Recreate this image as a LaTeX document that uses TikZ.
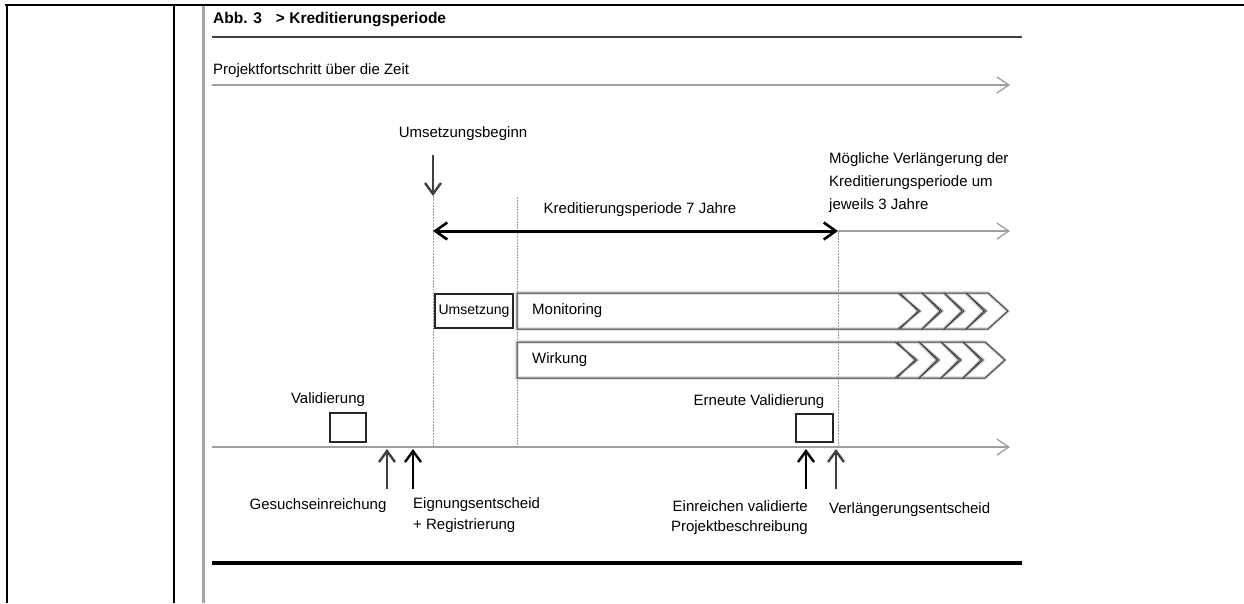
\documentclass[tikz,border=0pt]{standalone}
\usepackage{fontspec}
\setmainfont{Liberation Sans}
\usetikzlibrary{arrows.meta}
\begin{document}
\begin{tikzpicture}[x=1pt,y=-1pt,
  lbl/.style={font=\fontsize{15}{17}\selectfont, inner sep=0pt, text=black},
  barb/.style={-{Straight Barb[length=12pt,width=16pt,line width=1.3pt]}},
  dbarb/.style={{Straight Barb[length=12pt,width=17pt,line width=2.6pt]}-{Straight Barb[length=12pt,width=17pt,line width=2.6pt]}},
  upbarb/.style={-{Straight Barb[length=11pt,width=16pt,line width=2.4pt]}},
  thinline/.style={draw=gray!75, line width=1.4pt},
  guide/.style={draw=gray!80, line width=0.7pt, dash pattern=on 1.5pt off 1.5pt},
  frame/.style={draw=black, line width=2.4pt},
  smallbox/.style={draw=black!85, line width=1.8pt, inner sep=0pt},
  barlight/.style={draw=gray!35, line width=3.2pt, line join=miter},
  bardark/.style={draw=gray!55!black, line width=1pt, line join=miter}
]
\useasboundingbox (0,0) rectangle (1244,603);

% page frame
\coordinate (ft1) at (5,5);
\coordinate (ft2) at (1244,5);
\coordinate (fl1) at (7,5);
\coordinate (fl2) at (7,603);
\coordinate (fm1) at (174,5);
\coordinate (fm2) at (174,603);
\coordinate (fg1) at (203,6);
\coordinate (fg2) at (203,603);
\draw[frame] (ft1) -- (ft2);
\draw[frame] (fl1) -- (fl2);
\draw[draw=black, line width=2pt] (fm1) -- (fm2);
\draw[draw=gray!70, line width=3pt] (fg1) -- (fg2);

% header
\node[lbl, anchor=west, font=\fontsize{15.5}{17}\selectfont\bfseries] (title) at (213,20) {Abb. 3\hspace{14pt}> Kreditierungsperiode};
\coordinate (ul1) at (212,37);
\coordinate (ul2) at (1022,37);
\draw[draw=black!75, line width=2.2pt] (ul1) -- (ul2);

\node[lbl, anchor=west] (proj) at (213,71) {Projektfortschritt über die Zeit};
\coordinate (pa1) at (212,85);
\coordinate (pa2) at (1010,85);
\draw[thinline, barb] (pa1) -- (pa2);

% Umsetzungsbeginn
\node[lbl] (umsb) at (463,134) {Umsetzungsbeginn};
\coordinate (ua1) at (433,155);
\coordinate (ua2) at (433,196);
\draw[draw=black!75, line width=2.4pt, upbarb] (ua1) -- (ua2);

% guide lines
\coordinate (g1a) at (433,196);
\coordinate (g1b) at (433,447);
\coordinate (g2a) at (517,197);
\coordinate (g2b) at (517,447);
\coordinate (g3a) at (838,232);
\coordinate (g3b) at (838,447);
\draw[guide] (g1a) -- (g1b);
\draw[guide] (g2a) -- (g2b);
\draw[guide] (g3a) -- (g3b);

% credit period
\node[lbl] (kred) at (640,210) {Kreditierungsperiode 7 Jahre};
\coordinate (kp1) at (433,231);
\coordinate (kp2) at (838,231);
\coordinate (kp3) at (1010,231);
\draw[draw=black, line width=3pt, dbarb] (kp1) -- (kp2);
\draw[draw=gray!75, line width=1.3pt, barb] (kp2) -- (kp3);
\node[lbl, anchor=north west, align=left, font=\fontsize{15}{23}\selectfont] (moeg) at (829,152)
  {Mögliche Verlängerung der\\Kreditierungsperiode um\\jeweils 3 Jahre};

% Umsetzung box
\node[smallbox, minimum width=78pt, minimum height=34pt, font=\fontsize{14}{16}\selectfont] (ums) at (474,311) {Umsetzung};

% Monitoring and Wirkung bars with chevrons
\foreach \st in {barlight,bardark}{
  \draw[\st] (517,293) -- (898,293) -- (920,311) -- (898,329) -- (517,329) -- cycle;
  \foreach \k in {0,1,2,3}{
    \pgfmathsetmacro{\a}{900+22*\k}
    \draw[\st] (\a,293) -- (\a+22,293) -- (\a+42,311) -- (\a+22,329) -- (\a,329) -- (\a+18,311) -- cycle;
  }
  \draw[\st] (517,342) -- (895,342) -- (917,360) -- (895,378) -- (517,378) -- cycle;
  \foreach \k in {0,1,2,3}{
    \pgfmathsetmacro{\a}{897+22*\k}
    \draw[\st] (\a,342) -- (\a+22,342) -- (\a+42,360) -- (\a+22,378) -- (\a,378) -- (\a+18,360) -- cycle;
  }
}
\node[lbl, anchor=west] (mon) at (532,311) {Monitoring};
\node[lbl, anchor=west] (wirk) at (532,360) {Wirkung};

% validation boxes
\node[lbl] (valt) at (328,400) {Validierung};
\node[smallbox, minimum width=36pt, minimum height=29pt] (valb) at (348,427.5) {};
\node[lbl] (evalt) at (759,402) {Erneute Validierung};
\node[smallbox, minimum width=37pt, minimum height=28pt] (evalb) at (814.5,428) {};

% timeline
\coordinate (tl1) at (212,447);
\coordinate (tl2) at (1010,447);
\draw[thinline, barb] (tl1) -- (tl2);

% up arrows
\coordinate (a1a) at (387,489);
\coordinate (a1b) at (387,449);
\coordinate (a2a) at (413,489);
\coordinate (a2b) at (413,449);
\coordinate (a3a) at (806,489);
\coordinate (a3b) at (806,449);
\coordinate (a4a) at (836,489);
\coordinate (a4b) at (836,449);
\draw[draw=black!75, line width=2.6pt, upbarb] (a1a) -- (a1b);
\draw[draw=black, line width=2.6pt, upbarb] (a2a) -- (a2b);
\draw[draw=black, line width=2.6pt, upbarb] (a3a) -- (a3b);
\draw[draw=black!75, line width=2.6pt, upbarb] (a4a) -- (a4b);

\node[lbl] (ges) at (318,506) {Gesuchseinreichung};
\node[lbl, anchor=north west, align=left, font=\fontsize{15}{21}\selectfont] (eig) at (413,497) {Eignungsentscheid\\+ Registrierung};
\node[lbl, anchor=north east, align=right, font=\fontsize{15}{20}\selectfont] (ein) at (808,500) {Einreichen validierte\\Projektbeschreibung};
\node[lbl, anchor=west] (verl) at (829,510) {Verlängerungsentscheid};

% bottom rule
\coordinate (bl1) at (212,563);
\coordinate (bl2) at (1022,563);
\draw[draw=black, line width=3.5pt] (bl1) -- (bl2);
\end{tikzpicture}
\end{document}
